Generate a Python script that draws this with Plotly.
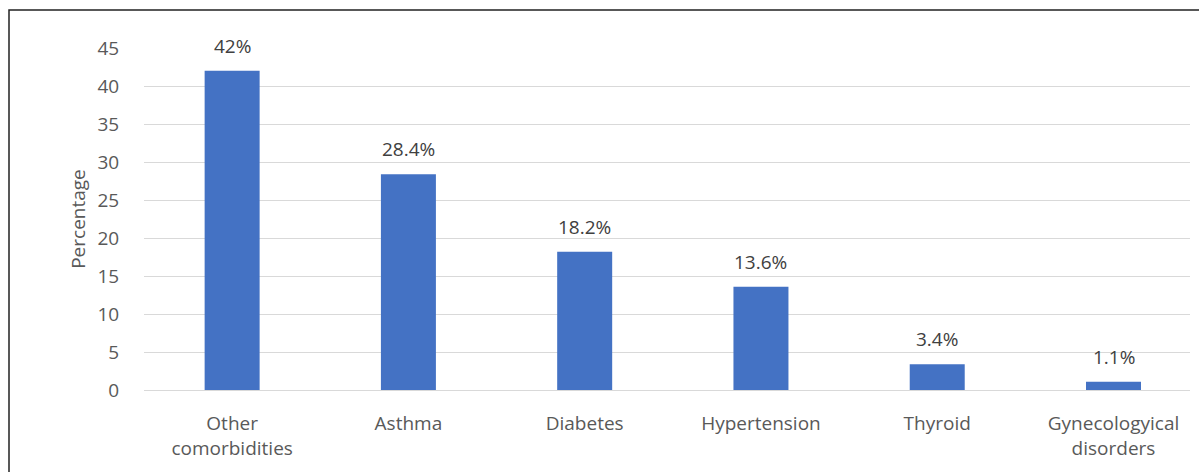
import plotly.graph_objects as go

categories = ["Other<br>comorbidities", "Asthma", "Diabetes", "Hypertension", "Thyroid", "Gynecologyical<br>disorders"]
values = [42, 28.4, 18.2, 13.6, 3.4, 1.1]
value_labels = ["42%", "28.4%", "18.2%", "13.6%", "3.4%", "1.1%"]
y_ticks = [0, 5, 10, 15, 20, 25, 30, 35, 40, 45]

W, H = 1199, 472
L, R, T, B = 144, 9, 48, 82
pw, ph = W - L - R, H - T - B

FONT = "Open Sans, Lato, sans-serif"
FS = 19

fig = go.Figure(go.Bar(
    x=categories, y=values, marker_color="#4472C4",
    marker_line_width=0, width=0.312,
))

for c, v, t in zip(categories, values, value_labels):
    fig.add_annotation(x=c, y=v, text=t, showarrow=False, yanchor="bottom",
                       yshift=10, font=dict(size=FS, color="#404040", family=FONT))

# outer frame around the whole chart
fig.add_shape(type="rect", xref="paper", yref="paper",
              x0=(9 - L) / pw, x1=(W + 5 - L) / pw,
              y0=(H - B - (H + 5)) / ph, y1=(H - B - 10) / ph,
              line=dict(color="#222222", width=1.5), fillcolor="rgba(0,0,0,0)", layer="above")

fig.update_layout(
    width=W, height=H, margin=dict(l=L, r=R, t=T, b=B),
    plot_bgcolor="white", paper_bgcolor="white", showlegend=False,
    font=dict(family=FONT, size=FS, color="#595959"),
    xaxis=dict(range=[-0.5, 5.434], showgrid=False, showline=False, ticks="outside", ticklen=16,
               tickcolor="rgba(0,0,0,0)", tickfont=dict(size=FS, color="#595959")),
    yaxis=dict(range=[0, 45], tickvals=y_ticks, showgrid=True, gridcolor="#d9d9d9", gridwidth=1,
               zeroline=True, zerolinecolor="#d9d9d9", zerolinewidth=1, showline=False,
               ticks="outside", ticklen=20, tickcolor="rgba(0,0,0,0)",
               title=dict(text="Percentage", font=dict(size=FS, color="#595959"), standoff=6),
               tickfont=dict(size=FS, color="#595959")),
)

fig.write_html("out.html")
